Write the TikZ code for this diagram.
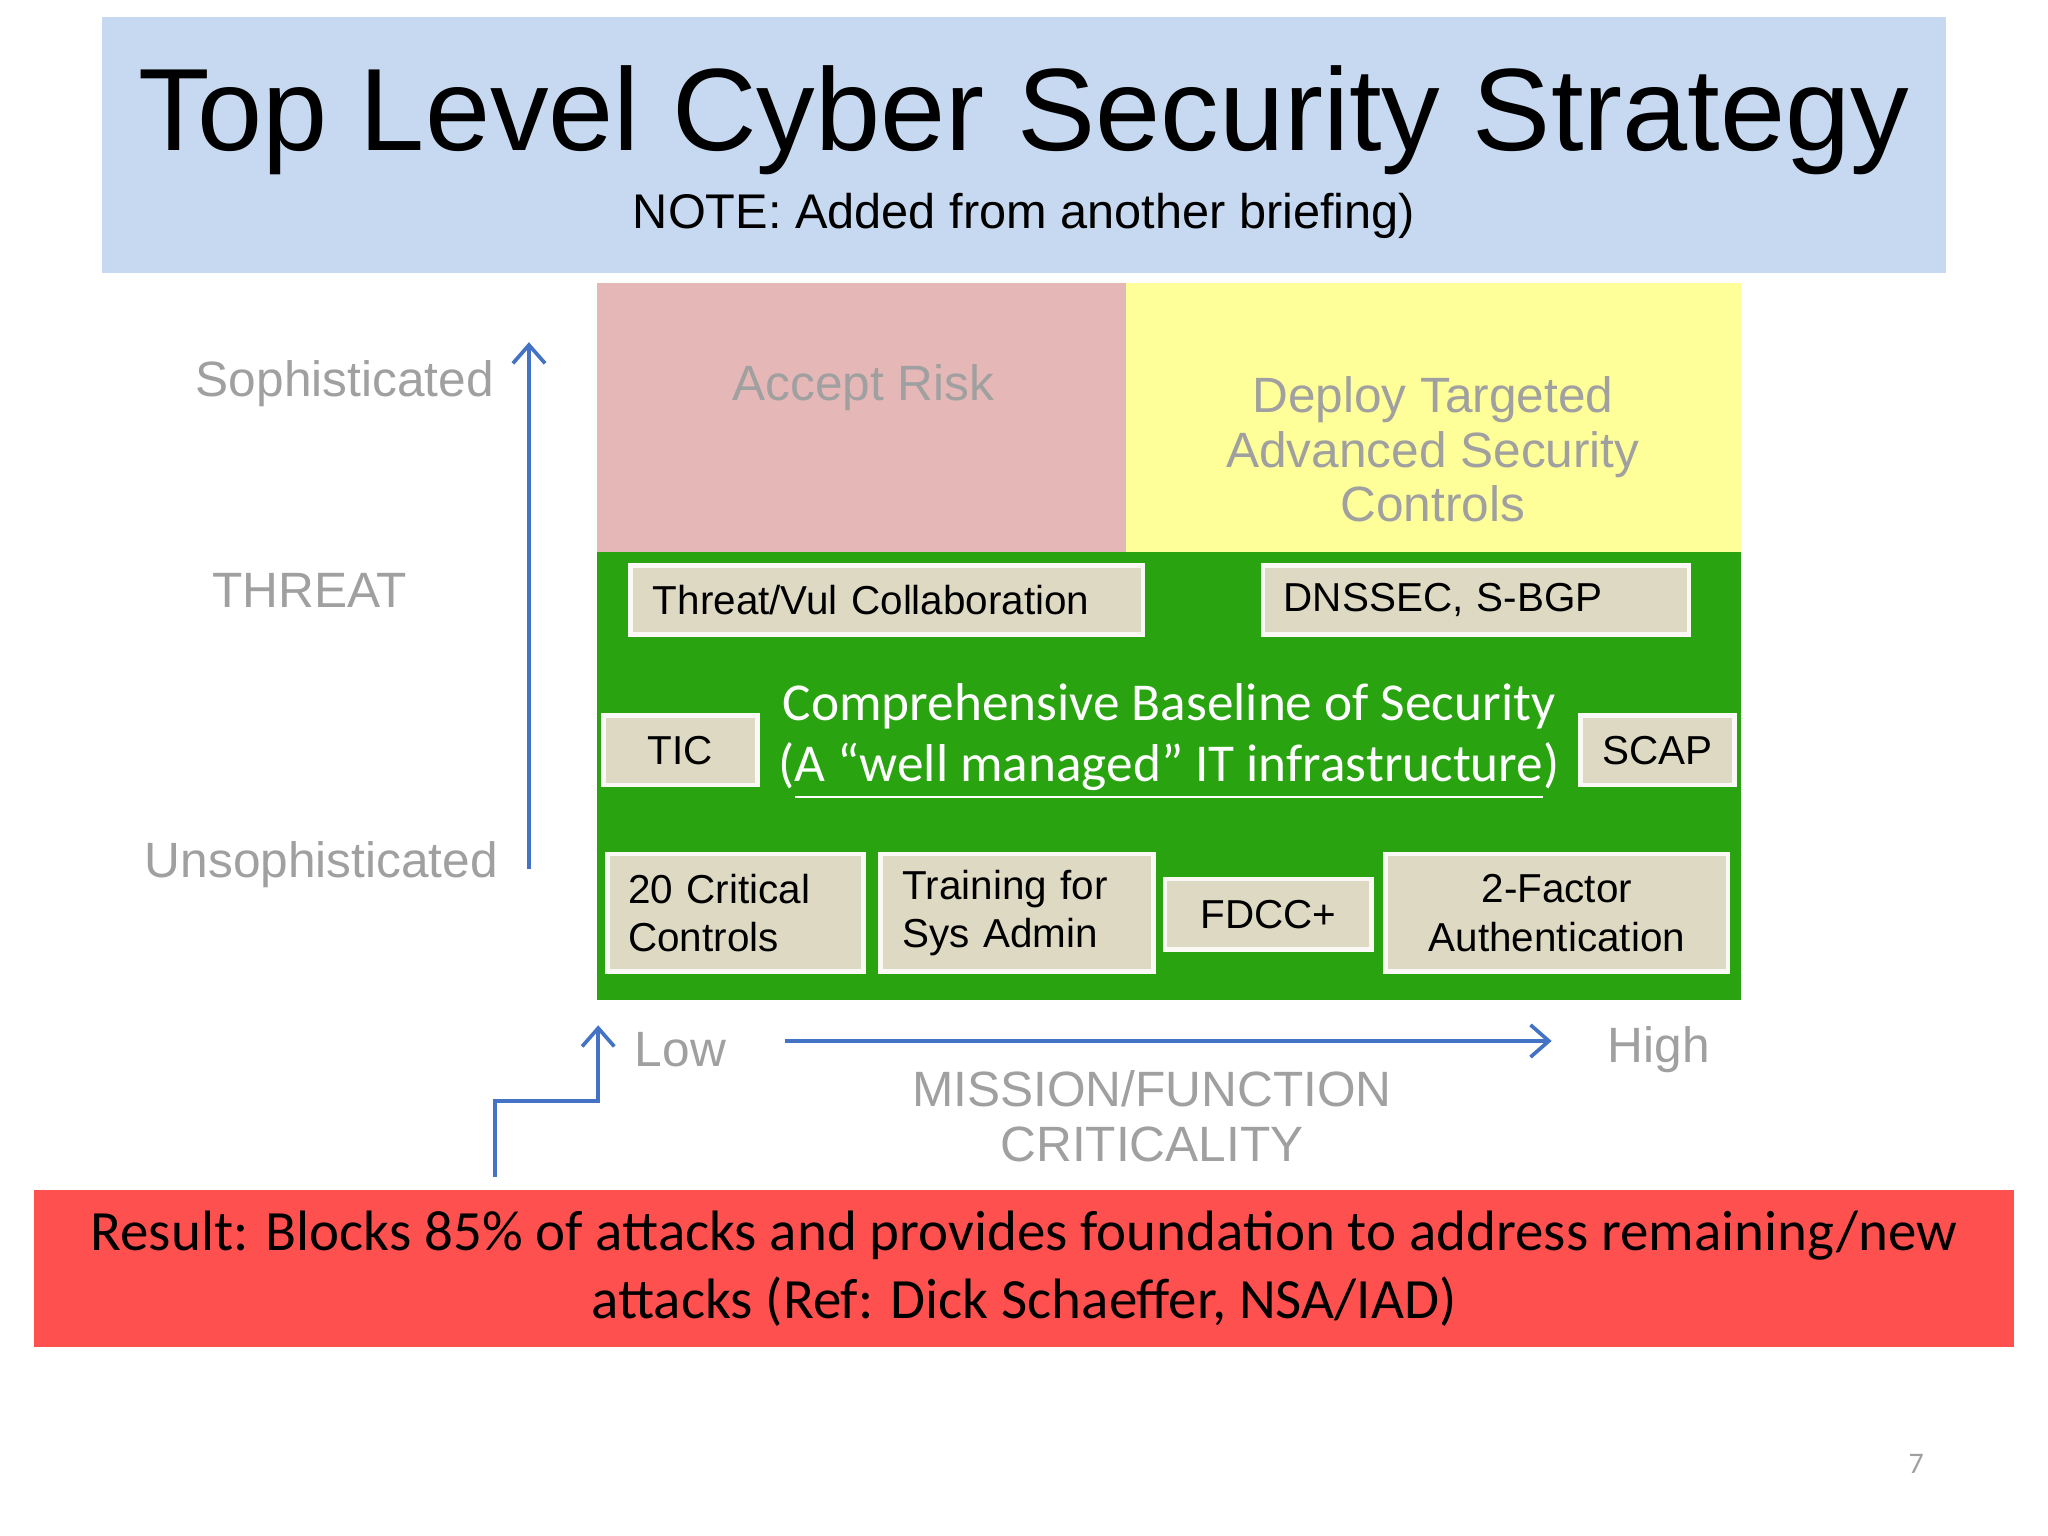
\documentclass[tikz,border=0pt]{standalone}
\usepackage{fontspec}
\setmainfont{Liberation Sans}
\newfontfamily\carl{Carlito}
\definecolor{titlebg}{RGB}{199,217,240}
\definecolor{pinkbg}{RGB}{229,184,183}
\definecolor{yellowbg}{RGB}{255,255,153}
\definecolor{greenbg}{RGB}{41,163,15}
\definecolor{beige}{RGB}{221,217,195}
\definecolor{lblgray}{RGB}{160,160,160}
\definecolor{arrblue}{RGB}{68,114,196}
\definecolor{redbg}{RGB}{255,80,80}
\usetikzlibrary{arrows.meta}
\tikzset{
  fs/.style={font=\fontsize{#1pt}{\dimexpr #1pt*6/5\relax}\selectfont},
  item/.style={fill=beige,draw=white!85!beige,line width=1pt,fs=8.8,align=left,inner sep=0pt},
  gl/.style={text=lblgray,fs=10.8,align=center},
  barr/.style={draw=arrblue,line width=0.8pt,-{Straight Barb[length=4pt,width=7pt]}},
}
\begin{document}
\begin{tikzpicture}[x=0.01cm,y=-0.01cm]
\useasboundingbox (0,0) rectangle (1568,1176);
\fill[white] (0,0) rectangle (1568,1176);
% title
\fill[titlebg] (78,13) rectangle (1490,209);
\node[fs=25.5] (title) at (784,92) {Top Level Cyber Security Strategy};
\node[fs=10.6] (note) at (784,165) {NOTE: Added from another briefing)};
% regions
\fill[pinkbg] (457,217) rectangle (862,423);
\fill[yellowbg] (862,217) rectangle (1333,423);
\fill[greenbg] (457,423) rectangle (1333,766);
\node[gl] (accept) at (661,297) {Accept Risk};
\node[gl] (deploy) at (1097,344) {Deploy Targeted\\[-1pt]Advanced Security\\[-1pt]Controls};
% items
\node[item,minimum width=3.92cm,minimum height=0.53cm,text width=3.58cm] (tv) at (679,459.5) {Threat/Vul Collaboration};
\node[item,minimum width=3.26cm,minimum height=0.53cm,text width=2.94cm] (dns) at (1130,459.5) {DNSSEC, S-BGP};
\node[item,minimum width=1.18cm,minimum height=0.53cm,align=center] (tic) at (521,574.5) {TIC};
\node[item,minimum width=1.18cm,minimum height=0.53cm,align=center] (scap) at (1269,574.5) {SCAP};
\node[item,minimum width=1.96cm,minimum height=0.9cm,text width=1.64cm] (c20) at (563,699) {20 Critical\\Controls};
\node[item,minimum width=2.09cm,minimum height=0.9cm,text width=1.75cm] (tr) at (778.5,699) {Training for\\Sys Admin};
\node[item,minimum width=1.58cm,minimum height=0.54cm,align=center] (fdcc) at (971,700) {FDCC+};
\node[item,minimum width=2.62cm,minimum height=0.9cm,align=center] (tfa) at (1192,699) {2-Factor\\Authentication};
\node[text=white,font=\carl\fontsize{11.6pt}{13.2pt}\selectfont,align=center] (base) at (895,568)
  {Comprehensive Baseline of Security\\({\underline{A “well managed” IT infrastructure}})};
% axes
\node[gl] (soph) at (264,294) {Sophisticated};
\node[gl] (threat) at (237,452) {THREAT};
\node[gl] (unsoph) at (246,662) {Unsophisticated};
\coordinate (va) at (405,665); \coordinate (vb) at (405,262);
\draw[barr] (va) -- (vb);
\node[gl] (low) at (521,804) {Low};
\node[gl] (high) at (1270,804) {High};
\node[gl] (mission) at (882,855) {MISSION/FUNCTION\\[-1pt]CRITICALITY};
\coordinate (ha) at (601,797); \coordinate (hb) at (1188,797);
\draw[barr] (ha) -- (hb);
\coordinate (sa) at (379,901); \coordinate (sb) at (458,785);
\draw[barr] (sa) |- (418,843) -| (sb);
% result
\fill[redbg] (26,911) rectangle (1542,1031);
\node[font=\carl\fontsize{12.4pt}{14.8pt}\selectfont,align=center] (res) at (784,971)
  {Result: Blocks 85\% of attacks and provides foundation to address remaining/new\\attacks (Ref: Dick Schaeffer, NSA/IAD)};
\node[text=lblgray,font=\carl\fontsize{6.5pt}{8pt}\selectfont] (pg) at (1467,1121) {7};
\end{tikzpicture}
\end{document}
